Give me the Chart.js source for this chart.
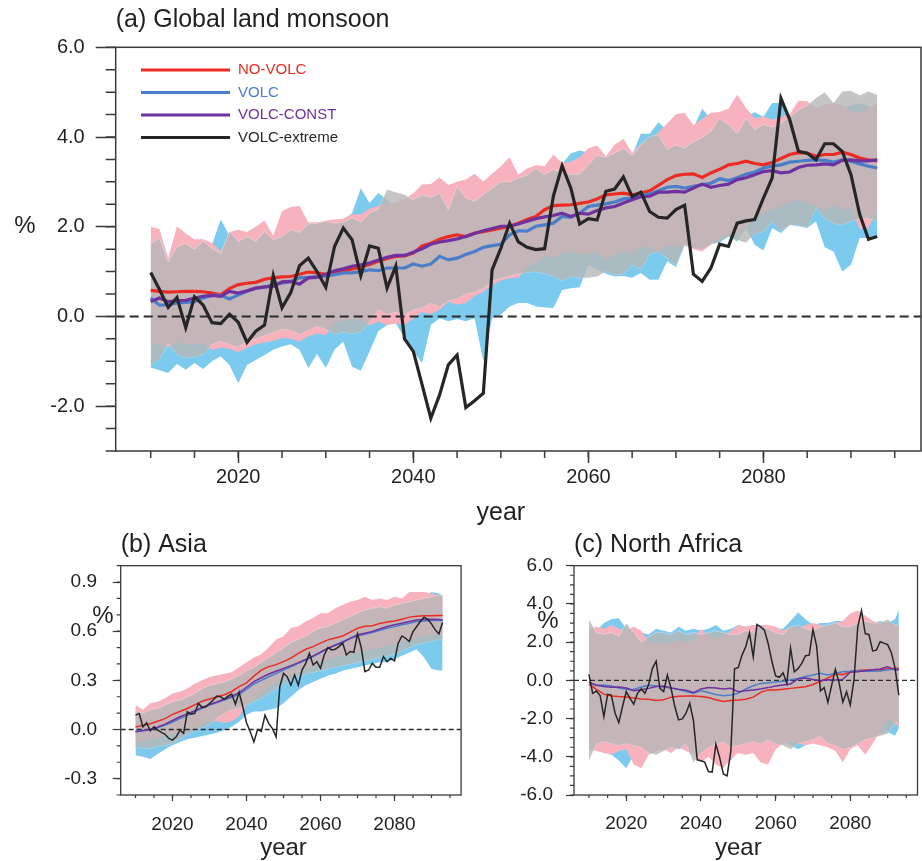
<!DOCTYPE html>
<html>
<head>
<meta charset="utf-8">
<title>Monsoon precipitation change</title>
<script src="https://cdn.jsdelivr.net/npm/chart.js@4.4.1/dist/chart.umd.min.js"></script>
<style>
  html, body { margin: 0; padding: 0; background: #ffffff; overflow: hidden; }
  #page { position: relative; width: 922px; height: 861px; }
  #page canvas { position: absolute; }
</style>
</head>
<body>
<div id="page">
  <canvas id="panelA" width="922" height="540" style="left:0;top:0;width:922px;height:540px"></canvas>
  <canvas id="panelB" width="470" height="336" style="left:0;top:525px;width:470px;height:336px"></canvas>
  <canvas id="panelC" width="452" height="336" style="left:470px;top:525px;width:452px;height:336px"></canvas>
</div>
<script>
const FONT = '"Liberation Sans", Arial, Helvetica, sans-serif';
const TEXT = '#231f20';
const AXIS = '#3a3a3a';
const COL = { red: '#ec2b25', blue: '#4a7ec8', purple: '#6f31a0', black: '#262626' };
const FILL = { pink: '#f7b2bd', cyan: '#7dcaef', grey: 'rgba(182,182,182,0.8)' };

// ---- shared year axes ----
const years = Array.from({ length: 84 }, (_, i) => 2010 + i);          // 2010 ... 2093, yearly
const yearsCoarse = [2010,2012,2014,2016,2018,2020,2022,2024,2026,2028,2030,2032,2034,2036,2038,2040,
  2042,2044,2046,2048,2050,2052,2054,2056,2058,2060,2062,2064,2066,2068,2070,2072,2074,2076,2078,2080,
  2082,2084,2086,2088,2090,2092,2093];
const yearTickLabels = [2020, 2040, 2060, 2080];

// ---- (a) Global land monsoon, % ----
const aNoVolc = [
  0.58,0.56,0.54,0.55,0.56,0.56,0.55,0.52,0.48,0.62,
  0.71,0.74,0.76,0.83,0.86,0.88,0.89,0.94,0.99,0.97,
  0.94,0.97,1.01,1.06,1.10,1.16,1.23,1.29,1.34,1.35,
  1.41,1.57,1.63,1.72,1.78,1.82,1.78,1.86,1.89,1.93,
  1.97,2.01,2.08,2.16,2.23,2.38,2.47,2.48,2.49,2.52,
  2.55,2.62,2.71,2.73,2.75,2.71,2.75,2.80,2.92,3.05,
  3.14,3.17,3.18,3.10,3.20,3.28,3.38,3.41,3.46,3.41,
  3.38,3.43,3.52,3.61,3.65,3.64,3.57,3.61,3.61,3.66,
  3.61,3.53,3.49,3.47];
const aVolc = [
  0.41,0.25,0.26,0.30,0.31,0.33,0.41,0.47,0.47,0.39,
  0.48,0.56,0.63,0.65,0.71,0.74,0.78,0.86,0.87,0.89,
  0.90,0.93,0.97,0.97,1.00,1.04,1.02,1.08,1.08,1.08,
  1.17,1.12,1.17,1.34,1.26,1.30,1.38,1.45,1.54,1.58,
  1.61,1.82,1.91,1.90,2.01,2.04,2.08,2.23,2.21,2.30,
  2.45,2.48,2.51,2.55,2.62,2.64,2.71,2.73,2.80,2.88,
  2.90,2.86,2.90,2.94,2.97,3.07,3.03,3.09,3.17,3.22,
  3.31,3.35,3.38,3.44,3.46,3.48,3.49,3.48,3.44,3.49,
  3.46,3.40,3.35,3.31];
const aVolcConst = [
  0.33,0.41,0.33,0.35,0.36,0.41,0.45,0.47,0.45,0.56,
  0.52,0.57,0.63,0.66,0.67,0.77,0.78,0.72,0.86,0.87,
  0.94,1.02,1.06,1.12,1.15,1.19,1.26,1.32,1.36,1.36,
  1.43,1.51,1.61,1.66,1.69,1.73,1.78,1.85,1.91,1.96,
  2.01,2.01,2.06,2.12,2.18,2.22,2.25,2.30,2.23,2.30,
  2.28,2.36,2.42,2.45,2.53,2.60,2.67,2.68,2.77,2.77,
  2.79,2.77,2.86,2.95,2.88,2.92,2.95,3.05,3.09,3.16,
  3.23,3.25,3.20,3.22,3.32,3.37,3.38,3.40,3.38,3.48,
  3.49,3.47,3.47,3.49];
const aVolcExtreme = [
  0.98,0.60,0.20,0.42,-0.25,0.44,0.25,-0.14,-0.16,0.05,
  -0.13,-0.58,-0.33,-0.19,0.91,0.19,0.53,1.13,1.30,1.00,
  0.65,1.56,1.97,1.71,0.91,1.57,1.52,0.63,1.12,-0.50,
  -0.78,-1.52,-2.27,-1.75,-1.08,-0.86,-2.03,-1.88,-1.71,1.04,
  1.52,2.08,1.66,1.54,1.49,1.51,2.68,3.36,2.86,2.06,
  2.18,2.15,2.79,2.84,3.11,2.67,2.77,2.34,2.21,2.19,
  2.38,2.48,0.94,0.78,1.08,1.61,1.56,2.08,2.13,2.16,
  2.64,3.09,4.86,4.39,3.68,3.64,3.49,3.85,3.85,3.68,
  3.16,2.27,1.72,1.78];
// ensemble spread (max / min) per experiment
const aNoVolcMax = [
  2.00,1.95,1.30,2.01,1.85,1.72,1.72,1.64,1.45,1.88,
  1.93,1.88,2.00,2.14,1.80,2.35,2.44,2.46,2.10,2.10,
  2.14,2.16,2.18,2.28,2.27,2.40,2.47,2.52,2.54,2.62,
  2.74,2.94,2.95,3.10,2.93,3.00,3.05,3.18,3.01,3.18,
  3.35,3.55,3.16,3.30,3.37,3.35,3.61,3.42,3.45,3.55,
  3.75,3.81,3.57,3.83,3.96,3.65,3.85,3.95,4.10,4.30,
  4.51,4.54,4.26,4.40,4.54,4.56,4.63,4.94,4.65,4.42,
  4.46,4.39,4.45,4.50,4.81,4.80,4.65,4.72,4.76,4.72,
  4.57,4.54,4.65,4.76];
const aNoVolcMin = [
  -0.60,-0.62,-0.68,-0.58,-0.62,-0.62,-0.60,-0.75,-0.70,-0.72,
  -0.80,-0.70,-0.62,-0.58,-0.55,-0.48,-0.50,-0.56,-0.45,-0.38,
  -0.42,-0.15,-0.10,-0.05,-0.08,-0.20,-0.12,-0.19,-0.15,-0.19,
  -0.05,0.10,0.05,0.15,0.33,0.26,0.30,0.45,0.55,0.70,
  0.80,0.85,0.86,1.10,1.20,1.35,1.30,1.40,1.45,1.40,
  1.38,1.45,1.25,1.40,1.45,1.42,1.55,1.55,1.45,1.60,
  1.55,1.58,1.50,1.45,1.60,1.75,1.82,1.85,2.00,2.20,
  2.30,2.38,2.45,2.56,2.60,2.53,2.45,2.38,2.49,2.38,
  2.42,1.95,1.97,2.40];
const aVolcMax = [
  1.70,1.65,1.20,1.60,1.65,1.55,1.60,1.60,2.16,1.80,
  1.85,1.80,1.90,1.95,1.75,2.05,2.10,2.20,2.05,2.05,
  2.10,2.10,2.15,2.30,2.86,2.53,2.75,2.60,2.40,2.55,
  2.60,2.70,2.75,2.80,2.75,2.85,2.90,2.95,2.90,3.05,
  3.15,3.20,3.10,3.20,3.25,3.25,3.40,3.40,3.64,3.70,
  3.65,3.70,3.55,3.75,3.85,3.60,4.07,4.07,4.33,4.15,
  4.30,4.35,4.20,4.63,4.40,4.45,4.55,4.50,4.45,4.55,
  4.45,4.76,4.76,4.40,4.55,4.60,4.65,4.65,4.70,4.65,
  4.70,4.75,4.70,4.55];
const aVolcMin = [
  -1.14,-1.20,-1.26,-1.06,-1.19,-1.04,-1.17,-1.00,-0.89,-1.08,
  -1.49,-1.08,-0.97,-0.86,-0.74,-0.67,-0.62,-0.74,-1.15,-0.84,
  -1.15,-0.74,-0.56,-1.12,-1.21,-0.78,-0.33,-0.19,-0.15,-0.48,
  -0.78,-1.04,-0.19,-0.04,-0.11,-0.06,-0.11,-0.04,-1.00,-0.04,
  0.04,0.22,0.30,0.30,0.22,0.20,0.19,0.59,0.63,0.65,
  1.15,1.05,0.95,0.89,0.90,0.86,0.97,0.82,0.82,1.23,
  1.10,1.58,1.52,1.49,1.61,1.64,1.78,1.67,1.97,1.60,
  1.47,1.97,1.86,2.04,2.01,1.97,2.12,1.54,1.45,1.00,
  1.15,1.75,1.75,1.75];
const aVolcConstMax = [
  1.62,1.75,1.22,1.55,1.62,1.50,1.68,1.52,1.40,1.90,
  1.67,1.78,1.67,1.90,1.71,1.78,1.93,1.87,2.06,2.08,
  2.12,2.08,2.10,2.20,2.10,2.30,2.40,2.83,2.77,2.72,
  2.60,2.71,2.65,2.75,2.38,2.90,2.64,2.57,2.71,2.86,
  3.00,3.00,3.09,3.15,3.30,3.16,3.28,3.20,3.17,3.17,
  3.38,3.59,3.55,3.64,3.75,3.59,3.83,4.01,4.05,3.72,
  3.83,3.75,3.90,3.99,4.13,4.41,4.28,4.07,4.42,4.16,
  4.28,4.22,4.31,4.45,4.60,4.70,4.87,5.00,4.76,5.02,
  5.03,4.93,5.02,4.94];
const aVolcConstMin = [
  -1.08,-0.95,-0.60,-0.85,-0.92,-0.90,-0.85,-0.62,-0.55,-0.62,
  -0.68,-0.55,-0.50,-0.42,-0.35,-0.28,-0.30,-0.40,-0.30,-0.22,
  -0.28,-0.40,-0.35,-0.38,-0.35,-0.12,0.15,0.05,0.10,0.05,
  0.15,0.20,0.30,0.22,0.35,0.40,0.50,0.55,0.62,0.80,
  0.85,0.90,0.95,0.98,1.00,0.95,0.90,0.80,0.89,0.86,
  0.86,0.89,1.00,0.93,0.95,1.15,1.05,1.38,1.45,1.30,
  1.15,1.60,1.52,1.49,1.61,1.67,1.78,1.71,1.64,1.85,
  1.89,2.12,1.90,2.04,2.04,1.97,2.42,2.19,2.08,2.04,
  2.12,2.19,2.19,2.12];
const aYTickLabels = [-2, 0, 2, 4, 6];

// ---- (b) Asia, % ----
const bVolcExtreme = [
  0.088,0.098,0.016,0.041,-0.008,0.016,-0.004,-0.018,-0.029,-0.055,
  -0.065,-0.045,-0.004,-0.024,0.108,0.094,0.098,0.159,0.135,0.139,
  0.159,0.180,0.204,0.200,0.184,0.204,0.216,0.155,0.227,0.139,
  0.041,-0.014,-0.076,0.000,-0.012,0.088,0.037,0.006,-0.045,0.261,
  0.343,0.322,0.270,0.333,0.270,0.363,0.404,0.465,0.394,0.414,
  0.373,0.455,0.500,0.486,0.490,0.506,0.527,0.455,0.476,0.471,
  0.584,0.502,0.353,0.363,0.404,0.380,0.380,0.445,0.414,0.435,
  0.418,0.527,0.571,0.557,0.537,0.598,0.629,0.661,0.686,0.673,
  0.645,0.608,0.584,0.653];
const bNoVolc = [0.015,0.025,0.035,0.050,0.066,0.092,0.110,0.128,0.150,0.172,0.186,0.198,0.212,0.232,
  0.262,0.285,0.326,0.362,0.384,0.396,0.414,0.436,0.465,0.490,0.506,0.527,0.547,0.558,0.571,0.594,
  0.618,0.630,0.634,0.647,0.656,0.662,0.673,0.686,0.692,0.695,0.694,0.696,0.696];
const bVolc = [-0.010,-0.004,0.000,0.010,0.027,0.046,0.067,0.086,0.108,0.129,0.149,0.165,0.180,0.196,
  0.214,0.245,0.278,0.300,0.322,0.342,0.363,0.383,0.404,0.424,0.445,0.470,0.496,0.517,0.537,0.555,
  0.571,0.582,0.592,0.605,0.618,0.628,0.639,0.649,0.659,0.663,0.665,0.665,0.665];
const bVolcConst = [-0.014,-0.008,0.000,0.015,0.033,0.055,0.078,0.095,0.114,0.134,0.153,0.168,0.186,0.204,
  0.224,0.258,0.292,0.316,0.339,0.356,0.373,0.390,0.408,0.428,0.449,0.472,0.496,0.514,0.531,0.556,
  0.578,0.588,0.598,0.613,0.629,0.639,0.649,0.659,0.669,0.671,0.673,0.671,0.669];
const bNoVolcMax = [0.15,0.12,0.16,0.17,0.19,0.22,0.23,0.25,0.28,0.30,0.32,0.33,0.34,0.35,0.38,0.41,
  0.44,0.46,0.50,0.55,0.57,0.62,0.63,0.66,0.68,0.71,0.71,0.74,0.76,0.78,0.79,0.81,0.79,0.80,0.79,0.81,
  0.80,0.84,0.84,0.84,0.83,0.82,0.82];
const bNoVolcMin = [-0.08,-0.07,-0.06,-0.05,-0.04,-0.03,-0.02,0.00,0.01,0.03,0.05,0.05,0.04,0.05,0.08,
  0.15,0.19,0.22,0.26,0.29,0.31,0.33,0.35,0.37,0.39,0.41,0.43,0.44,0.45,0.46,0.47,0.48,0.49,0.50,0.51,
  0.52,0.54,0.55,0.56,0.57,0.58,0.58,0.58];
const bVolcMax = [0.13,0.11,0.14,0.15,0.17,0.19,0.20,0.22,0.24,0.26,0.28,0.30,0.31,0.33,0.35,0.38,
  0.40,0.42,0.46,0.50,0.53,0.56,0.58,0.60,0.62,0.64,0.66,0.67,0.69,0.71,0.73,0.75,0.76,0.77,0.77,0.78,
  0.79,0.80,0.80,0.81,0.84,0.83,0.82];
const bVolcMin = [-0.157,-0.167,-0.180,-0.150,-0.120,-0.096,-0.076,-0.059,-0.050,-0.040,-0.030,-0.020,
  -0.004,0.016,0.047,0.090,0.110,0.110,0.120,0.130,0.160,0.200,0.240,0.270,0.290,0.310,0.330,0.340,
  0.360,0.370,0.380,0.390,0.400,0.410,0.410,0.430,0.450,0.470,0.490,0.440,0.370,0.360,0.360];
const bVolcConstMax = [0.11,0.10,0.12,0.13,0.15,0.17,0.18,0.20,0.22,0.25,0.27,0.28,0.29,0.31,0.33,0.36,
  0.38,0.41,0.44,0.47,0.50,0.53,0.55,0.57,0.60,0.62,0.63,0.65,0.67,0.69,0.71,0.73,0.74,0.75,0.74,0.76,
  0.77,0.78,0.79,0.80,0.81,0.82,0.81];
const bVolcConstMin = [-0.116,-0.110,-0.116,-0.100,-0.096,-0.086,-0.055,-0.030,-0.010,0.010,0.030,0.070,
  0.100,0.120,0.130,0.150,0.170,0.190,0.220,0.250,0.280,0.300,0.320,0.340,0.350,0.360,0.370,0.380,
  0.390,0.400,0.410,0.420,0.430,0.440,0.450,0.460,0.480,0.500,0.520,0.530,0.540,0.550,0.550];
const bYTickLabels = [-0.3, 0, 0.3, 0.6, 0.9];

// ---- (c) North Africa, % ----
const cVolcExtreme = [
  0.31,-0.68,-0.56,-0.80,-1.90,-0.73,-0.77,-1.72,-2.21,-1.37,
  -0.59,-0.94,-1.25,-0.68,-0.45,-0.68,-0.21,0.63,1.00,-0.42,
  -0.59,0.28,-0.42,-1.37,-2.07,-2.02,-1.72,-1.20,-2.12,-4.16,
  -4.21,-4.28,-4.77,-4.80,-3.34,-4.03,-4.90,-5.00,-3.72,0.60,
  0.68,1.32,1.76,2.49,1.23,2.92,2.80,2.63,1.93,1.00,
  0.23,0.16,0.40,-0.16,1.69,0.45,0.61,0.89,1.29,1.32,
  2.65,1.78,-0.55,-0.38,-1.16,-0.26,0.58,-0.13,-1.14,-0.60,
  -1.29,0.05,2.80,3.65,2.45,2.40,1.54,1.58,2.02,1.95,
  1.87,1.45,0.63,-0.77];
const cNoVolc = [-0.19,-0.47,-0.72,-0.82,-0.85,-0.87,-0.92,-0.97,-0.99,-1.06,-1.02,-0.88,-0.83,-0.82,
  -0.82,-0.84,-0.90,-1.02,-1.11,-1.05,-1.03,-0.99,-0.88,-0.63,-0.50,-0.50,-0.46,-0.42,-0.37,-0.33,
  -0.22,-0.05,0.12,0.33,0.30,0.45,0.52,0.54,0.54,0.54,0.60,0.63,0.63];
const cVolc = [-0.08,-0.28,-0.24,-0.30,-0.40,-0.46,-0.48,-0.35,-0.26,-0.30,-0.36,-0.40,-0.48,-0.58,
  -0.68,-0.55,-0.64,-0.74,-0.80,-0.77,-0.68,-0.45,-0.28,-0.16,-0.12,-0.09,-0.05,0.03,0.10,0.20,
  0.28,0.37,0.28,0.37,0.45,0.47,0.50,0.47,0.47,0.49,0.55,0.58,0.58];
const cVolcConst = [-0.12,-0.24,-0.32,-0.36,-0.35,-0.40,-0.54,-0.49,-0.42,-0.32,-0.30,-0.40,-0.47,-0.52,
  -0.64,-0.45,-0.38,-0.40,-0.45,-0.42,-0.59,-0.55,-0.50,-0.45,-0.38,-0.30,-0.24,-0.19,0.08,0.12,
  0.05,-0.02,0.03,0.02,0.05,0.42,0.45,0.50,0.56,0.59,0.71,0.55,0.55];
const cNoVolcMax = [2.7,2.8,2.7,2.9,2.7,2.6,2.8,2.6,2.0,2.0,1.9,2.0,2.1,2.0,2.1,2.7,2.3,2.2,2.3,2.6,
  2.9,2.8,2.9,2.9,2.9,2.8,2.6,2.8,2.7,2.9,3.0,2.9,2.8,3.0,3.1,3.5,3.65,3.4,3.1,3.0,3.0,2.9,2.9];
const cNoVolcMin = [-3.6,-3.7,-3.8,-3.9,-3.7,-3.6,-4.4,-4.6,-3.9,-3.7,-3.6,-3.8,-3.5,-3.7,-3.9,-4.3,
  -4.0,-4.4,-4.6,-4.1,-3.8,-3.9,-3.8,-4.3,-4.4,-3.6,-3.3,-3.2,-3.3,-3.4,-3.3,-3.4,-3.5,-3.7,-4.3,-3.6,
  -3.4,-3.9,-3.3,-2.7,-2.0,-2.3,-2.4];
const cVolcMax = [2.6,2.6,3.0,3.2,3.25,2.7,2.6,2.5,2.4,2.7,2.6,2.5,2.8,2.6,2.7,2.6,2.7,2.9,2.6,2.7,
  2.9,2.8,2.9,2.9,2.8,2.7,2.7,3.1,3.55,3.2,2.9,3.0,3.0,3.1,3.1,3.0,3.3,3.2,3.0,3.1,3.0,3.2,3.7];
const cVolcMin = [-3.0,-3.2,-3.7,-3.9,-4.2,-4.6,-3.9,-3.6,-3.4,-3.5,-3.6,-3.5,-3.6,-3.5,-3.6,-3.6,
  -3.5,-3.7,-4.0,-4.2,-3.7,-3.4,-3.4,-3.3,-3.2,-3.1,-3.2,-3.4,-3.6,-3.4,-3.2,-3.3,-3.4,-3.6,-3.6,-3.4,
  -3.2,-3.1,-2.9,-2.8,-2.7,-2.9,-2.5];
const cVolcConstMax = [3.2,2.5,2.4,2.5,2.3,3.0,2.5,2.0,2.3,2.5,2.5,2.4,2.6,2.4,2.5,2.4,2.5,2.6,2.5,2.4,
  2.4,2.6,2.5,2.9,2.7,2.5,2.4,2.8,2.9,2.7,2.6,2.8,2.9,3.0,2.8,2.8,3.0,3.1,3.0,3.0,3.2,2.9,2.9];
const cVolcConstMin = [-4.2,-3.3,-3.2,-3.3,-3.4,-3.3,-3.4,-3.5,-3.8,-3.9,-3.7,-3.5,-3.6,-3.3,-4.3,-3.8,
  -3.5,-3.3,-3.2,-3.5,-3.4,-3.3,-3.2,-3.3,-3.1,-3.3,-3.4,-3.6,-3.3,-3.2,-3.1,-2.9,-3.3,-3.4,-3.6,-3.5,
  -3.3,-3.1,-3.0,-2.9,-2.8,-2.2,-2.2];
const cYTickLabels = [-6, -4, -2, 0, 2, 4, 6];

// ---- helpers ----
const toPoints = (xs, ys) => ys.map((y, i) => ({ x: xs[i], y }));

function lineSet(label, xs, ys, color, width) {
  return { label, data: toPoints(xs, ys), borderColor: color, backgroundColor: color,
    borderWidth: width, pointRadius: 0, tension: 0, fill: false };
}
function bandSets(label, xs, hi, lo, color, edge) {
  const common = { pointRadius: 0, tension: 0, backgroundColor: color,
    borderColor: edge ? edge.color : 'transparent', borderWidth: edge ? edge.width : 0 };
  return [
    Object.assign({ label: label + ' max', data: toPoints(xs, hi), fill: '+1' }, common),
    Object.assign({ label: label + ' min', data: toPoints(xs, lo), fill: false }, common)
  ];
}
const greyEdge = { color: 'rgba(255,255,255,0.45)', width: 0.7 };

// datasets listed top-most first (index 0 is painted last)
function panelDatasets(p) {
  return [
    lineSet('VOLC-extreme', p.xLine, p.extreme, COL.black, p.lw),
    lineSet('VOLC-CONST', p.xMean, p.volcConst, COL.purple, p.lw),
    lineSet('VOLC', p.xMean, p.volc, COL.blue, p.lw),
    lineSet('NO-VOLC', p.xMean, p.noVolc, COL.red, p.lw),
    ...bandSets('VOLC-CONST range', p.xBand, p.constMax, p.constMin, FILL.grey, greyEdge),
    ...bandSets('NO-VOLC range', p.xBand, p.noVolcMax, p.noVolcMin, FILL.pink, null),
    ...bandSets('VOLC range', p.xBand, p.volcMax, p.volcMin, FILL.cyan, null)
  ];
}

// ---- plugins ----
const zeroLine = {
  id: 'zeroLine',
  afterDatasetDraw(chart, args, o) {
    if (args.index !== o.after) return;
    const { ctx, chartArea: a } = chart;
    const y = chart.scales.y.getPixelForValue(0);
    ctx.save();
    ctx.strokeStyle = o.color; ctx.lineWidth = o.width; ctx.setLineDash(o.dash);
    ctx.beginPath(); ctx.moveTo(a.left, y); ctx.lineTo(a.right, y); ctx.stroke();
    ctx.restore();
  }
};

const panelDecor = {
  id: 'panelDecor',
  afterDraw(chart, args, o) {
    const { ctx, chartArea: a } = chart;
    const xs = chart.scales.x, ys = chart.scales.y;
    ctx.save();
    ctx.strokeStyle = AXIS; ctx.lineWidth = o.tickWidth;
    ctx.beginPath();
    o.xMinor.forEach(v => { const p = xs.getPixelForValue(v); ctx.moveTo(p, a.bottom); ctx.lineTo(p, a.bottom + o.xMinorLen); });
    o.yMinor.forEach(v => { const p = ys.getPixelForValue(v); ctx.moveTo(a.left, p); ctx.lineTo(a.left - o.yMinorLen, p); });
    ctx.stroke();
    ctx.lineWidth = o.frameWidth;
    ctx.strokeRect(a.left, a.top, a.right - a.left, a.bottom - a.top);
    ctx.fillStyle = TEXT;
    ctx.font = o.unitFont; ctx.textAlign = 'center'; ctx.textBaseline = 'middle';
    ctx.fillText(o.unitText, o.unitX, o.unitY);
    ctx.font = o.captionFont; ctx.textBaseline = 'alphabetic';
    ctx.fillText(o.captionText, xs.getPixelForValue(o.captionAt), o.captionY);
    ctx.restore();
  }
};

const lineKey = {
  id: 'lineKey',
  afterDraw(chart, args, o) {
    if (!o.items) return;
    const { ctx, chartArea: a } = chart;
    ctx.save();
    ctx.font = o.font; ctx.textAlign = 'left'; ctx.textBaseline = 'middle';
    o.items.forEach((idx, row) => {
      const ds = chart.data.datasets[idx];
      const y = a.top + o.top + row * o.spacing;
      const x0 = a.left + o.left;
      ctx.strokeStyle = ds.borderColor; ctx.lineWidth = o.lineWidth;
      ctx.beginPath(); ctx.moveTo(x0, y); ctx.lineTo(x0 + o.length, y); ctx.stroke();
      ctx.fillStyle = ds.borderColor;
      ctx.fillText(ds.label, x0 + o.length + o.gap, y);
    });
    ctx.restore();
  }
};

function makeChart(id, p) {
  return new Chart(document.getElementById(id), {
    type: 'line',
    data: { datasets: panelDatasets(p) },
    plugins: [zeroLine, panelDecor, lineKey],
    options: {
      responsive: false, animation: false, events: [],
      layout: { padding: { left: 0, right: p.padRight, top: 0, bottom: 0 } },
      plugins: {
        legend: { display: false },
        tooltip: { enabled: false },
        title: { display: true, text: p.title, align: 'start', fullSize: false, color: TEXT,
          font: { family: FONT, size: 25, weight: 'normal', lineHeight: 1.2 },
          padding: { top: p.titleTop, bottom: p.titleBottom } },
        zeroLine: { after: 4, color: '#2b2b2b', width: p.zeroWidth, dash: p.zeroDash },
        panelDecor: p.decor,
        lineKey: p.key || {}
      },
      scales: {
        x: {
          type: 'linear', min: 2006, max: 2098,
          afterBuildTicks: s => { s.ticks = yearTickLabels.map(v => ({ value: v })); },
          afterFit: s => { s.height = p.xAxisHeight; },
          border: { display: false },
          grid: { display: true, drawOnChartArea: false, drawTicks: true, tickLength: p.xTickLen,
            tickWidth: p.tickWidth, tickColor: AXIS },
          ticks: { autoSkip: false, maxRotation: 0, padding: p.xTickPad, color: TEXT,
            font: { family: FONT, size: p.tickFont }, callback: v => String(v) }
        },
        y: {
          type: 'linear', min: p.yMin, max: p.yMax,
          afterBuildTicks: s => { s.ticks = p.yTicks.map(v => ({ value: v })); },
          afterFit: s => { s.width = p.yAxisWidth; },
          border: { display: false },
          grid: { display: true, drawOnChartArea: false, drawTicks: true, tickLength: p.yTickLen,
            tickWidth: p.tickWidth, tickColor: AXIS },
          ticks: { autoSkip: false, padding: p.yTickPad, color: TEXT,
            font: { family: FONT, size: p.tickFont }, callback: v => v.toFixed(1) }
        }
      }
    }
  });
}

const range = (from, to, step) => Array.from({ length: Math.round((to - from) / step) + 1 }, (_, i) => +(from + i * step).toFixed(3));

makeChart('panelA', {
  title: '(a) Global land monsoon', titleTop: 5, titleBottom: 12.3,
  xLine: years, xMean: years, xBand: years, lw: 3.2,
  extreme: aVolcExtreme, volcConst: aVolcConst, volc: aVolc, noVolc: aNoVolc,
  constMax: aVolcConstMax, constMin: aVolcConstMin, noVolcMax: aNoVolcMax, noVolcMin: aNoVolcMin,
  volcMax: aVolcMax, volcMin: aVolcMin,
  yMin: -3, yMax: 6, yTicks: aYTickLabels,
  padRight: 1, xAxisHeight: 89, yAxisWidth: 115.7,
  xTickLen: 12, yTickLen: 20, tickWidth: 1.5, xTickPad: 2, yTickPad: 11, tickFont: 20,
  zeroWidth: 2, zeroDash: [9, 5],
  decor: { xMinor: range(2010, 2095, 5), yMinor: range(-3, 6, 0.5), xMinorLen: 7, yMinorLen: 10,
    tickWidth: 1.5, frameWidth: 1.5, unitFont: '24px ' + FONT, unitText: '%', unitX: 25, unitY: 226,
    captionFont: '25px ' + FONT, captionText: 'year', captionAt: 2050, captionY: 520 },
  key: { items: [3, 2, 1, 0], font: '15px ' + FONT, top: 22.7, spacing: 22.5, left: 25.3, length: 89,
    gap: 8, lineWidth: 3.2 }
});

makeChart('panelB', {
  title: '(b) Asia', titleTop: 5, titleBottom: 5.7,
  xLine: years, xMean: yearsCoarse, xBand: yearsCoarse, lw: 1.5,
  extreme: bVolcExtreme, volcConst: bVolcConst, volc: bVolc, noVolc: bNoVolc,
  constMax: bVolcConstMax, constMin: bVolcConstMin, noVolcMax: bNoVolcMax, noVolcMin: bNoVolcMin,
  volcMax: bVolcMax, volcMin: bVolcMin,
  yMin: -0.4, yMax: 1.0, yTicks: bYTickLabels,
  padRight: 8.9, xAxisHeight: 66, yAxisWidth: 120.7,
  xTickLen: 6, yTickLen: 8, tickWidth: 1.2, xTickPad: 12.6, yTickPad: 15.7, tickFont: 19,
  zeroWidth: 1.3, zeroDash: [5, 3],
  decor: { xMinor: range(2010, 2095, 5), yMinor: range(-0.4, 1.0, 0.1), xMinorLen: 3, yMinorLen: 4,
    tickWidth: 1.2, frameWidth: 1.3, unitFont: '24px ' + FONT, unitText: '%', unitX: 103, unitY: 91,
    captionFont: '24px ' + FONT, captionText: 'year', captionAt: 2050, captionY: 330 }
});

makeChart('panelC', {
  title: '(c) North Africa', titleTop: 5, titleBottom: 5.7,
  xLine: years, xMean: yearsCoarse, xBand: yearsCoarse, lw: 1.5,
  extreme: cVolcExtreme, volcConst: cVolcConst, volc: cVolc, noVolc: cNoVolc,
  constMax: cVolcConstMax, constMin: cVolcConstMin, noVolcMax: cNoVolcMax, noVolcMin: cNoVolcMin,
  volcMax: cVolcMax, volcMin: cVolcMin,
  yMin: -6, yMax: 6, yTicks: cYTickLabels,
  padRight: 4.5, xAxisHeight: 66, yAxisWidth: 104,
  xTickLen: 6, yTickLen: 8, tickWidth: 1.2, xTickPad: 11.6, yTickPad: 13, tickFont: 19,
  zeroWidth: 1.3, zeroDash: [5, 3],
  decor: { xMinor: range(2010, 2095, 5), yMinor: range(-6, 6, 0.5), xMinorLen: 3, yMinorLen: 4,
    tickWidth: 1.2, frameWidth: 1.3, unitFont: '24px ' + FONT, unitText: '%', unitX: 78, unitY: 96,
    captionFont: '24px ' + FONT, captionText: 'year', captionAt: 2050, captionY: 330 }
});
</script>
</body>
</html>
